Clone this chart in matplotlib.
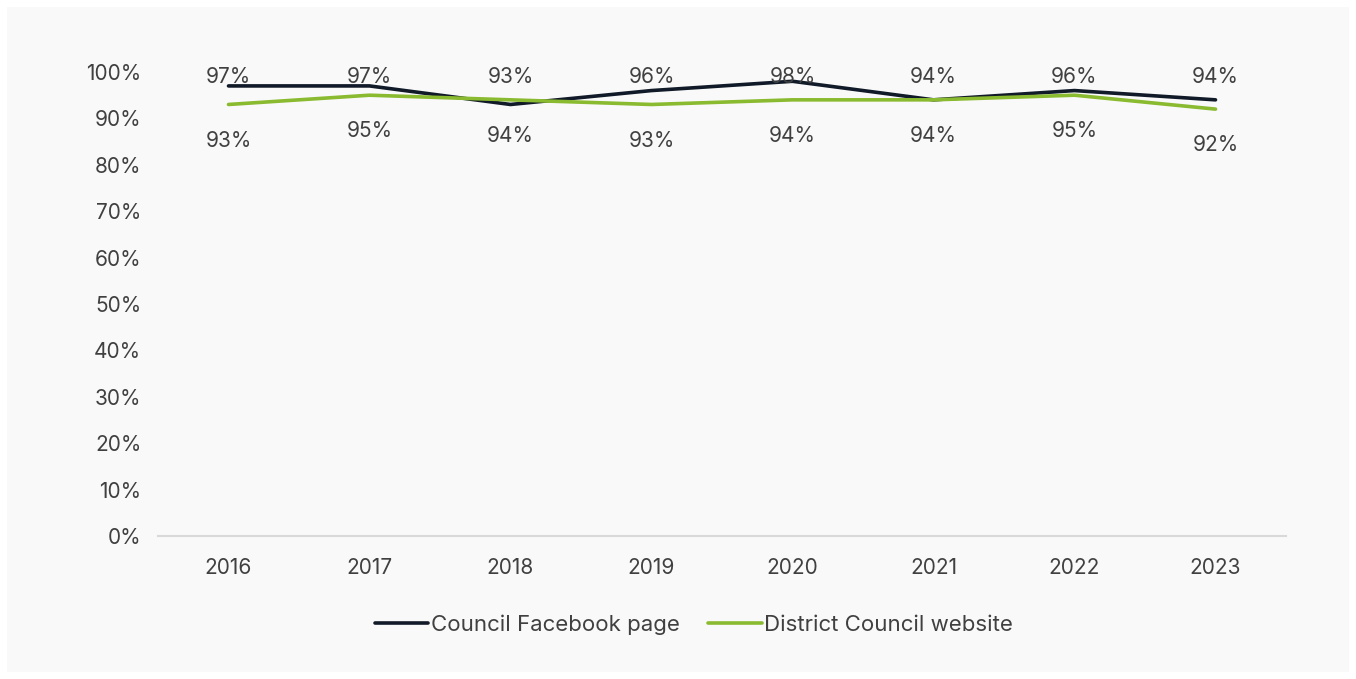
import matplotlib.pyplot as plt
import matplotlib.patches as patches
from matplotlib.ticker import PercentFormatter

plt.rcParams['font.family'] = ['Inter', 'DejaVu Sans']

years = ['2016', '2017', '2018', '2019', '2020', '2021', '2022', '2023']
facebook = [97, 97, 93, 96, 98, 94, 96, 94]
website = [93, 95, 94, 93, 94, 94, 95, 92]

navy = '#111a28'
green = '#8aba2f'
text_grey = '#404040'

fig = plt.figure(figsize=(13.56, 6.79), dpi=100)
fig.patch.set_facecolor('white')

# light panel behind the chart
fig.add_artist(patches.Rectangle((7 / 1356, 7 / 679), 1342 / 1356, 665 / 679,
                                 transform=fig.transFigure, facecolor='#f9f9f9',
                                 edgecolor='none', zorder=0))

ax = fig.add_axes([158 / 1356, 1 - 536 / 679, 1128 / 1356, 464 / 679])
ax.set_facecolor('none')

x = list(range(len(years)))
ax.plot(x, facebook, color=navy, lw=2.6, solid_capstyle='round', label='Council Facebook page')
ax.plot(x, website, color=green, lw=2.6, solid_capstyle='round', label='District Council website')

# value labels: Facebook along the top, website below its line
for i, v in enumerate(facebook):
    ax.text(i, 98.9, f'{v}%', ha='center', va='center', fontsize=15, color=text_grey)
for i, v in enumerate(website):
    ax.annotate(f'{v}%', (i, v), xytext=(0, -26), textcoords='offset points',
                ha='center', va='center', fontsize=15, color=text_grey)

ax.set_xlim(-0.5, len(years) - 0.5)
ax.set_ylim(0, 100)
ax.set_yticks(range(0, 101, 10))
ax.yaxis.set_major_formatter(PercentFormatter(decimals=0))
ax.set_xticks(x)
ax.set_xticklabels(years)

for side in ['top', 'right', 'left']:
    ax.spines[side].set_visible(False)
ax.spines['bottom'].set_color('#d9d9d9')
ax.spines['bottom'].set_linewidth(1.5)
ax.tick_params(axis='both', length=0, labelsize=15, labelcolor=text_grey)
ax.tick_params(axis='y', pad=12)
ax.tick_params(axis='x', pad=16)

fig.legend(loc='center', bbox_to_anchor=(694 / 1356, 1 - 625 / 679), ncol=2,
           frameon=False, fontsize=16, labelcolor=text_grey, handlelength=2.4,
           handletextpad=0.1, columnspacing=1.3)

fig.savefig('out.png', dpi=100, facecolor=fig.get_facecolor())
